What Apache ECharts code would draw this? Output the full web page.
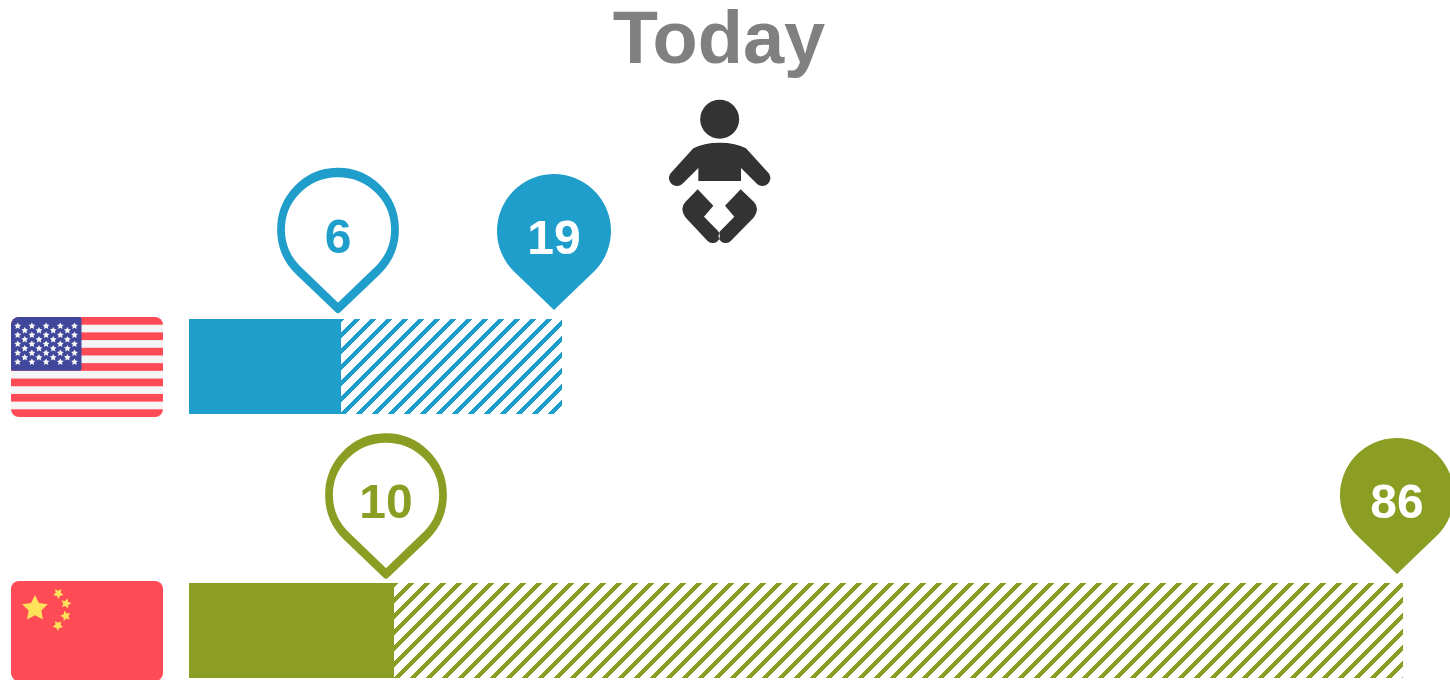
<!DOCTYPE html>
<html>
<head>
<meta charset="utf-8">
<style>html,body{margin:0;padding:0;background:#fff}#c{width:1450px;height:680px}</style>
<script src="https://cdn.jsdelivr.net/npm/echarts@6/dist/echarts.min.js"></script>
</head>
<body>
<div id="c"></div>
<script>
// Data
const titleText = 'Today';
const countries = ['USA', 'China'];
const solidLabels = [6, 10];
const totalLabels = [19, 86];
// Drawn bar extents in axis units: the printed labels are not proportional to the bars
const solidLengths = [152, 205];
const hatchedLengths = [221, 1009];
const solidPinAt = [149, 197];
const totalPinAt = [365, 1208];
const seriesColors = ['#1f9ecb', '#8b9d22'];

const PIN = 'path://M57 136L17.5 98.1A57 57 0 1 1 96.5 98.1Z';

function hatch(color, phase) {
  const period = 16, c = document.createElement('canvas');
  c.width = c.height = period;
  const g = c.getContext('2d');
  g.fillStyle = color;
  for (let y = 0; y < period; y++) for (let x = 0; x < period; x++) {
    if ((x + y + phase) % period < 6) g.fillRect(x, y, 1, 1);
  }
  return { image: c, repeat: 'repeat' };
}

function starPts(cx, cy, r, rot) {
  const p = [];
  for (let i = 0; i < 10; i++) {
    const a = (rot || 0) - Math.PI / 2 + i * Math.PI / 5, q = i % 2 ? r * 0.5 : r;
    p.push((cx + q * Math.cos(a)).toFixed(2) + ',' + (cy + q * Math.sin(a)).toFixed(2));
  }
  return p.join(' ');
}
function svgUrl(w, h, body, vb) {
  return 'data:image/svg+xml;charset=utf-8,' + encodeURIComponent(
    '<svg xmlns="http://www.w3.org/2000/svg" width="' + w + '" height="' + h + '" viewBox="' + (vb || ('0 0 ' + w + ' ' + h)) + '">' + body + '</svg>');
}
function clipped(w, h, body) {
  return '<defs><clipPath id="r"><rect width="' + w + '" height="' + h + '" rx="8" ry="8"/></clipPath></defs><g clip-path="url(#r)">' + body + '</g>';
}
function usFlag() {
  let b = '<rect width="152" height="100" fill="#f5f5f5"/>';
  for (let i = 0; i < 13; i += 2) b += '<rect y="' + (i * 100 / 13) + '" width="152" height="' + (100 / 13) + '" fill="#ff4b55"/>';
  b += '<rect width="70.5" height="53.8" rx="2" fill="#41479b"/>';
  for (let r = 0; r < 9; r++) {
    const n = r % 2 ? 4 : 5;
    for (let i = 0; i < n; i++) {
      b += '<polygon fill="#f5f5f5" points="' + starPts(6.7 + (r % 2 ? 7.1 : 0) + i * 14.2, 9 + r * 4.5, 3.6) + '"/>';
    }
  }
  return svgUrl(152, 100, clipped(152, 100, b));
}
function cnFlag() {
  let b = '<rect width="152" height="100" fill="#ff4b55"/>';
  b += '<polygon fill="#ffe15a" points="' + starPts(24, 27.5, 13.5) + '"/>';
  [[47.3, 12.5, 0.6], [55, 22.5, 0.25], [54.7, 35, -0.25], [47, 44.5, -0.6]].forEach(s => {
    b += '<polygon fill="#ffe15a" points="' + starPts(s[0], s[1], 5.4, s[2]) + '"/>';
  });
  return svgUrl(152, 100, clipped(152, 100, b));
}

const babyPath = 'M130 175Q160 158 209 158Q258 158 288 175L352 245A24 24 0 0 1 322 283L273 234L273 273L145 273L145 234L96 283A24 24 0 0 1 66 245Z' +
  'M143 298L190 347L162 380L204 423A20 20 0 0 1 172 452L106 382Q88 355 106 336Z' +
  'M272 298L225 347L253 380L211 423A20 20 0 0 0 243 452L312 382Q330 355 312 336Z';
const babyIcon = svgUrl(140, 160, '<circle cx="209" cy="88" r="58.5" fill="#333"/><path fill="#333" d="' + babyPath + '"/>', '0 0 420 480');

function pinData(xs, colorFn, offsets) {
  return xs.map((x, i) => {
    const item = { value: [x, countries[i]], symbolOffset: [0, offsets[i]] };
    Object.assign(item, colorFn(i));
    return item;
  });
}
const labelBase = { show: true, position: 'inside', fontFamily: 'Liberation Sans', fontWeight: 'bold', fontSize: 48 };

const chart = echarts.init(document.getElementById('c'), null, { renderer: 'canvas' });
chart.setOption({
  animation: false,
  backgroundColor: '#fff',
  title: {
    text: titleText, left: 714, top: 1, textAlign: 'center',
    textStyle: { fontFamily: 'Liberation Sans', fontWeight: 'bold', fontSize: 74, color: '#808080' }
  },
  grid: { left: 189, top: 234.5, width: 1261, height: 528, outerBoundsMode: 'none' },
  xAxis: { type: 'value', min: 0, max: 1261, show: false },
  yAxis: { type: 'category', data: countries, inverse: true, show: false },
  graphic: [
    { type: 'image', x: 11, y: 317, style: { image: usFlag(), width: 152, height: 100 } },
    { type: 'image', x: 11, y: 581, style: { image: cnFlag(), width: 152, height: 100 } },
    { type: 'image', x: 650, y: 90, style: { image: babyIcon, width: 140, height: 160 } }
  ],
  series: [
    {
      type: 'bar', stack: 'a', barWidth: 95,
      data: solidLengths.map((v, i) => ({ value: v, itemStyle: { color: seriesColors[i] } }))
    },
    {
      type: 'bar', stack: 'a', barWidth: 95,
      data: hatchedLengths.map((v, i) => ({ value: v, itemStyle: { color: hatch(seriesColors[i], i ? 1 : 15) } }))
    },
    {
      type: 'scatter', clip: false, symbol: PIN, symbolSize: [114, 136], z: 5,
      data: pinData(solidPinAt, i => ({
        itemStyle: { color: '#fff', opacity: 1, borderColor: seriesColors[i], borderWidth: 8.5, borderJoin: 'round' },
        label: Object.assign({}, labelBase, { formatter: String(solidLabels[i]), color: seriesColors[i], offset: [0, -1] })
      }), [-126, -124.5])
    },
    {
      type: 'scatter', clip: false, symbol: PIN, symbolSize: [114, 136], z: 5,
      data: pinData(totalPinAt, i => ({
        itemStyle: { color: seriesColors[i], opacity: 1 },
        label: Object.assign({}, labelBase, { formatter: String(totalLabels[i]), color: '#fff', offset: [0, -1] })
      }), [-124.5, -124.5])
    }
  ]
});
</script>
</body>
</html>
